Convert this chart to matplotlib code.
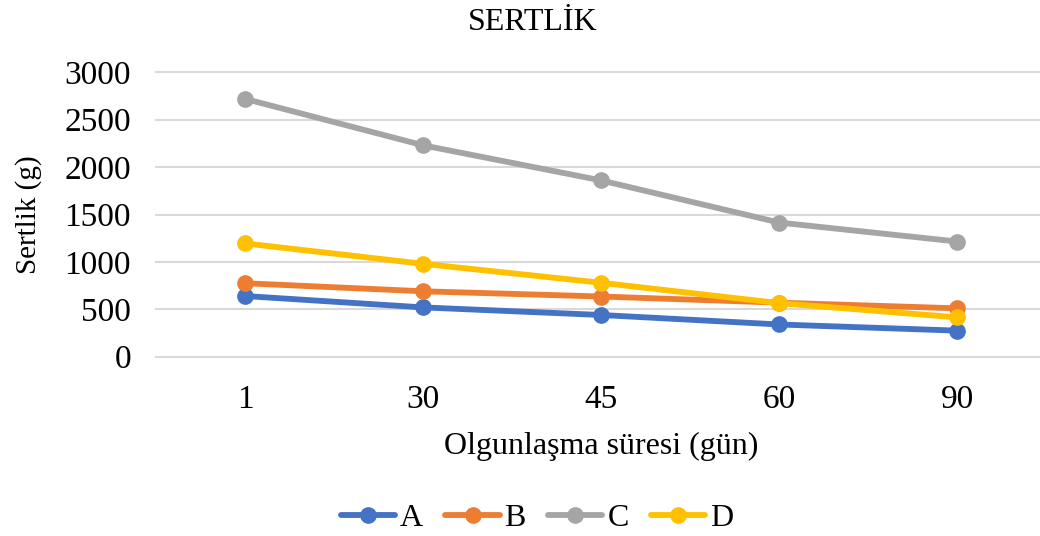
import matplotlib
matplotlib.use("Agg")
import matplotlib.pyplot as plt

categories = ["1", "30", "45", "60", "90"]
series_names = ["A", "B", "C", "D"]
A = [640, 520, 440, 340, 275]
B = [775, 690, 635, 570, 510]
C = [2720, 2230, 1860, 1415, 1215]
D = [1195, 980, 780, 565, 415]
colors = ["#4472C4", "#ED7D31", "#A5A5A5", "#FFC000"]
y_ticks = [0, 500, 1000, 1500, 2000, 2500, 3000]

plt.rcParams['font.family'] = ['Liberation Serif', 'DejaVu Serif']

W, H = 1040, 536
fig = plt.figure(figsize=(W / 100, H / 100), dpi=100)
left, right, top, bottom = 156, 1046, 72.3, 356.7
ax = fig.add_axes([left / W, 1 - bottom / H, (right - left) / W, (bottom - top) / H])

x = list(range(len(categories)))
for name, vals, c in zip(series_names, [A, B, C, D], colors):
    ax.plot(x, vals, color=c, lw=4.2, marker='o', markersize=11, label=name,
            solid_capstyle='round', clip_on=False, zorder=3)

ax.set_xlim(-0.5, len(categories) - 0.5)
ax.set_ylim(0, 3000)
ax.set_yticks(y_ticks)
ax.set_yticklabels([str(t) for t in y_ticks])
ax.set_xticks(x)
ax.set_xticklabels(categories)
ax.tick_params(axis='both', length=0, labelsize=24, colors='black')
ax.tick_params(axis='y', pad=18)
ax.tick_params(axis='x', pad=20)
for s in ax.spines.values():
    s.set_visible(False)
ax.set_axisbelow(True)
for t in y_ticks:
    ax.axhline(t, color='#D9D9D9', lw=1.5, zorder=0, clip_on=False)

ax.set_ylabel("Sertlik (g)", fontsize=21, labelpad=16)
ax.set_xlabel("Olgunlaşma süresi (gün)", fontsize=23, labelpad=12)
fig.text(533 / W, 1 - 22 / H, "SERTLİK", ha='center', va='center', fontsize=23)

leg = fig.legend(loc='center', bbox_to_anchor=(537 / W, 1 - 518 / H), ncol=4,
                 frameon=False, fontsize=23, handlelength=1.7, handletextpad=0.15,
                 columnspacing=0.7)

fig.savefig("out.png", dpi=100)
